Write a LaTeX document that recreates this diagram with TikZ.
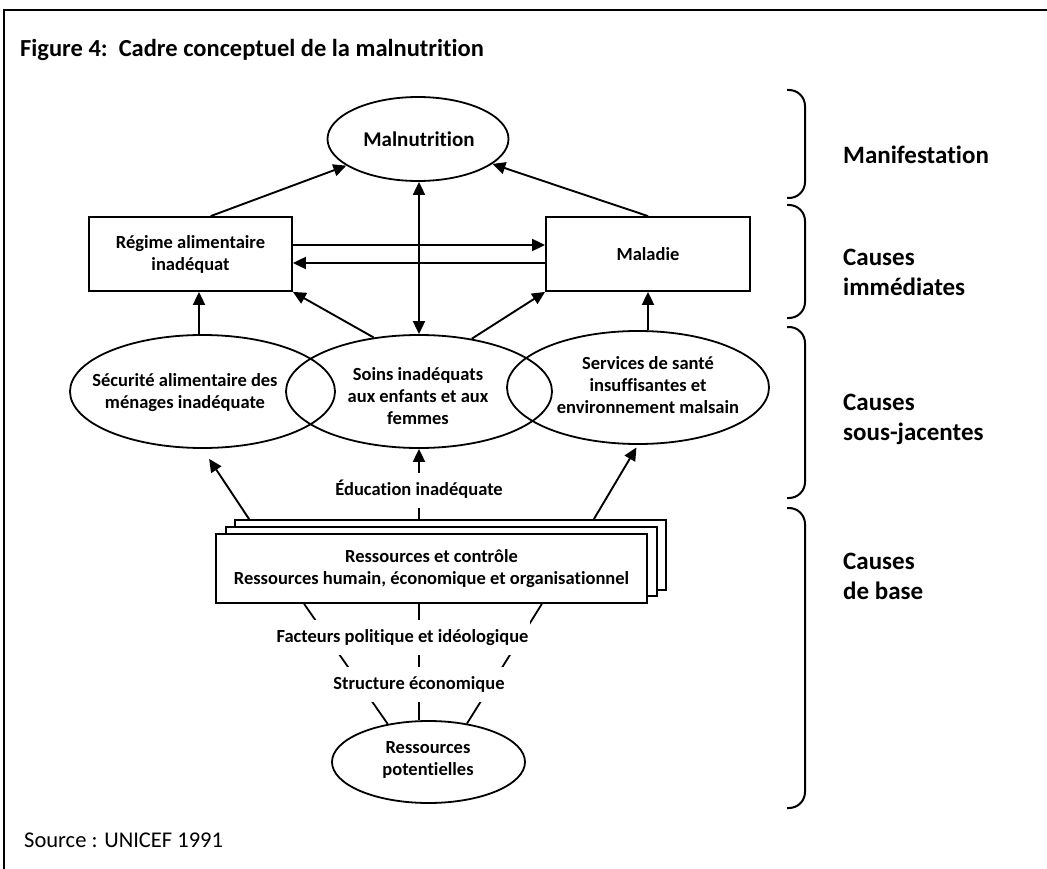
\documentclass[tikz,border=0pt]{standalone}
\usepackage{fontspec}
\setmainfont[Ligatures=NoCommon]{Carlito}
\usetikzlibrary{shapes.geometric,arrows.meta}

\begin{document}
\begin{tikzpicture}[x=1pt,y=-1pt,
    >={Triangle[length=13pt,width=12pt]},
    txt/.style={font=\fontsize{18.5}{22}\selectfont\bfseries, align=center, inner sep=0pt},
    box/.style={txt, draw, line width=1.8pt, fill=white},
    oval/.style={draw, ellipse, line width=1.8pt, inner sep=0pt},
    lbl/.style={txt, fill=white, inner xsep=2pt, inner ysep=9pt, text height=13pt, text depth=4pt},
    level/.style={anchor=west, inner sep=0pt, align=left, font=\fontsize{25}{30}\selectfont\bfseries},
    brace/.style={line width=2pt, rounded corners=16pt},
    arr/.style={->, line width=1.9pt}]
    \useasboundingbox (0,0) rectangle (1047,869);
    \draw[line width=2pt] (4,869) -- (4,10) -- (1047,10);

    \node[anchor=west, inner sep=0pt, font=\fontsize{24.5}{29}\selectfont\bfseries] (title) at (20,50) {Figure 4:\ \ Cadre conceptuel de la malnutrition};
    \node[anchor=west, inner sep=0pt, font=\fontsize{22.5}{27}\selectfont] (source) at (24,840) {Source : UNICEF 1991};

    \node[oval, minimum width=181pt, minimum height=84pt] (maln) at (418,139) {};
    \node[txt, font=\fontsize{21}{25}\selectfont\bfseries] (malnt) at (419,139) {Malnutrition};
    \node[box, minimum width=203pt, minimum height=74pt] (regime) at (190.5,254) {Régime alimentaire\\inadéquat};
    \node[box, minimum width=204pt, minimum height=74pt] (maladie) at (648,254) {Maladie};

    \node[oval, minimum width=265pt, minimum height=113pt] (secu) at (202.5,391.5) {};
    \node[oval, minimum width=266pt, minimum height=113pt] (soins) at (419,391.5) {};
    \node[oval, minimum width=262pt, minimum height=113pt] (serv) at (638,387.5) {};
    \node[txt] (secut) at (185,392.5) {Sécurité alimentaire des\\ménages inadéquate};
    \node[txt] (soinst) at (418,396) {Soins inadéquats\\aux enfants et aux\\femmes};
    \node[txt] (servt) at (648,385) {Services de santé\\insuffisantes et\\environnement malsain};

    \node[box, minimum width=431pt, minimum height=70pt] (res3) at (450.5,555) {};
    \node[box, minimum width=431pt, minimum height=69pt] (res2) at (441.5,561.5) {};
    \node[box, minimum width=431pt, minimum height=69pt] (res1) at (431.5,568.5) {Ressources et contrôle\\Ressources humain, économique et organisationnel};
    \node[oval, minimum width=193pt, minimum height=82pt] (pot) at (428.5,762) {};
    \node[txt] (pott) at (428,760) {Ressources\\potentielles};

    \draw[arr] (regime.62) -- (maln);
    \draw[arr] (maladie.north) -- (maln);
    \draw[arr, <->] (soins.north) -- (soins.north |- maln.south);
    \draw[arr] ([yshift=9pt]regime.east) -- ([yshift=9pt]maladie.west);
    \draw[arr] ([yshift=-9pt]maladie.west) -- ([yshift=-9pt]regime.east);
    \draw[arr] ([xshift=-3.5pt]secu.north) -- ([xshift=-3.5pt]secu.north |- regime.south);
    \draw[arr] (maladie.south |- serv.north) -- (maladie.south);
    \draw[arr] (soins.130) -- (regime.south east);
    \draw[arr] (soins.45) -- (maladie.south west);

    \draw[arr, shorten >=12pt] ([xshift=15pt]res3.north west) -- (secu.south);
    \draw[arr, shorten >=3pt] ([xshift=-73pt]res3.north east) -- (serv.south);
    \draw[arr] (soins.south |- res3.north) -- (soins.south);
    \node[lbl] (edu) at (419,490.5) {Éducation inadéquate};

    \draw[line width=1.8pt] ([xshift=89pt]res1.south west) -- (pot.137);
    \draw[line width=1.8pt] (res1.south -| soins.south) -- (pot.north -| soins.south);
    \draw[line width=1.8pt] ([xshift=-106pt]res1.south east) -- (pot.45);
    \node[lbl] (fact) at (402.5,637.5) {Facteurs politique et idéologique};
    \node[lbl] (struct) at (419,684.5) {Structure économique};

    \draw[brace] (787,90) -- (805,90) -- (805,198) -- (787,198);
    \draw[brace] (787,205) -- (805,205) -- (805,318) -- (787,318);
    \draw[brace] (787,327) -- (805,327) -- (805,498) -- (787,498);
    \draw[brace] (787,508) -- (805,508) -- (805,808) -- (787,808);

    \node[level] (manif) at (843,155) {Manifestation};
    \node[level] (immed) at (843,272) {Causes\\immédiates};
    \node[level] (sous) at (843,419.5) {Causes\\sous-jacentes};
    \node[level] (base) at (843,576) {Causes\\de base};
\end{tikzpicture}
\end{document}
